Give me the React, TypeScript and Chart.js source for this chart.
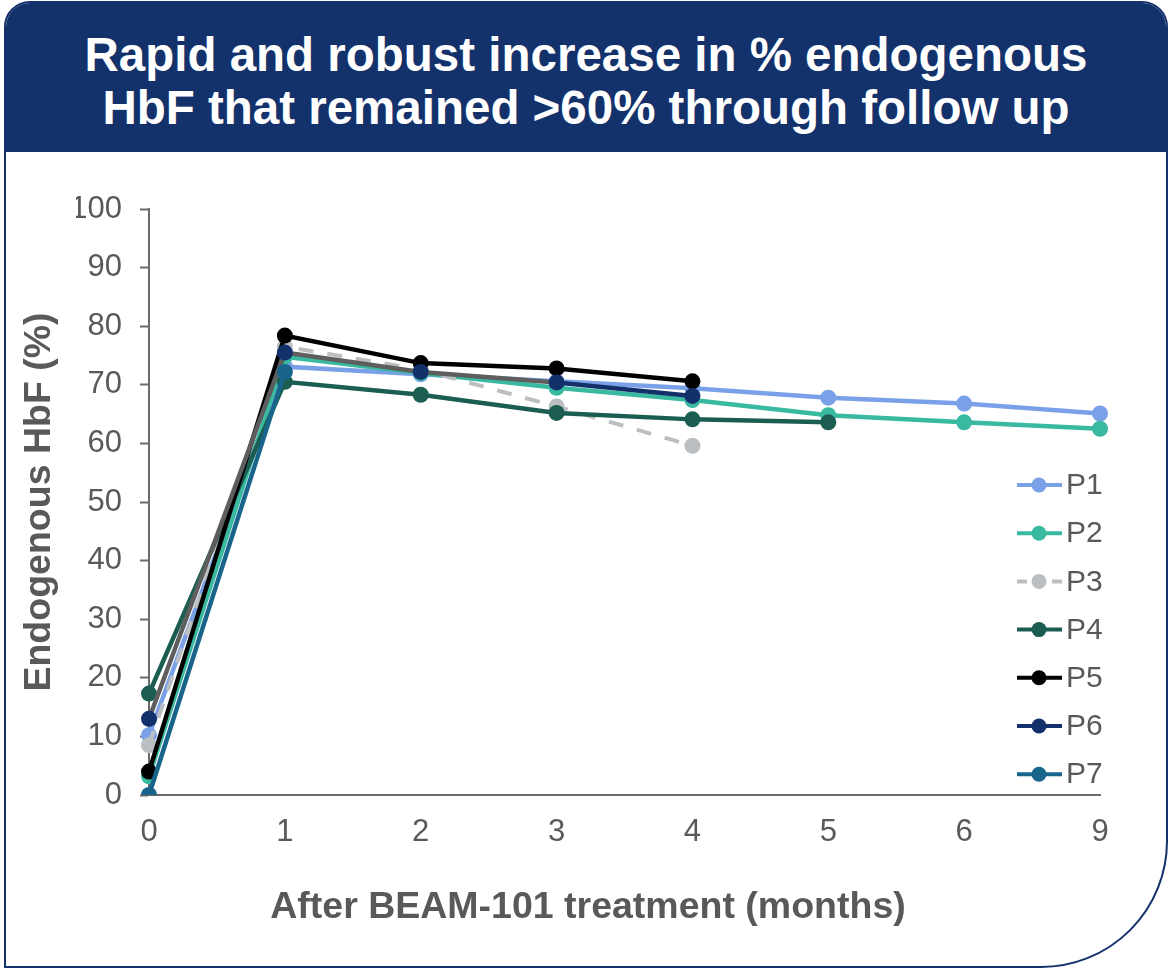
import React, { useEffect, useRef } from "react";
import { Chart, registerables } from "chart.js";

Chart.register(...registerables);

const months = ["0", "1", "2", "3", "4", "5", "6", "9"];
const seriesNames = ["P1", "P2", "P3", "P4", "P5", "P6", "P7"];
const p1 = [10.2, 73.1, 71.8, 70.6, 69.4, 67.8, 66.8, 65.1];
const p2 = [3.2, 74.8, 72.0, 69.5, 67.4, 64.8, 63.6, 62.5];
const p3 = [8.5, 76.5, 72.6, 66.3, 59.6, null, null, null];
const p4 = [17.3, 70.5, 68.3, 65.2, 64.1, 63.6, null, null];
const p5 = [4.0, 78.4, 73.7, 72.8, 70.6, null, null, null];
const p6 = [13.0, 75.5, 72.2, 70.4, 68.1, null, null, null];
const p7 = [0, 72.2, null, null, null, null, null, null];
const seriesValues = [p1, p2, p3, p4, p5, p6, p7];
const seriesColors = ["#7aa1e8", "#38b9a0", "#bcbfc2", "#1b5e51", "#000000", "#12306a", "#18648a"];
const p6EarlyColor = "#5e5e5e";
const yTicks = [0, 10, 20, 30, 40, 50, 60, 70, 80, 90, 100];

const NAVY = "#13316b";
const GREY_TEXT = "#595959";
const AXIS_GREY = "#6a6a6a";
const FONT = "'Liberation Sans', Arial, sans-serif";

const legendPlugin = {
  id: "sideLegend",
  afterDatasetsDraw(chart: any) {
    const { ctx, chartArea } = chart;
    const x0 = chartArea.right - 83;
    const x1 = x0 + 45;
    const cx = x0 + 22;
    const yStart = chartArea.top + 276;
    const step = 48.2;
    ctx.save();
    seriesNames.forEach((name, i) => {
      const y = yStart + i * step;
      const color = seriesColors[i];
      ctx.strokeStyle = color;
      ctx.lineWidth = 4;
      ctx.lineCap = "butt";
      if (i === 2) {
        ctx.setLineDash([10, 25]);
      } else {
        ctx.setLineDash([]);
      }
      ctx.beginPath();
      ctx.moveTo(x0, y);
      ctx.lineTo(x1, y);
      ctx.stroke();
      ctx.setLineDash([]);
      ctx.fillStyle = color;
      ctx.beginPath();
      ctx.arc(cx, y, 7.5, 0, Math.PI * 2);
      ctx.fill();
      ctx.fillStyle = GREY_TEXT;
      ctx.font = `30px ${FONT}`;
      ctx.textAlign = "left";
      ctx.textBaseline = "middle";
      ctx.fillText(name, x1 + 4, y + 1);
    });
    ctx.restore();
  },
};

export default function App() {
  const canvasRef = useRef<HTMLCanvasElement | null>(null);

  useEffect(() => {
    if (!canvasRef.current) return;
    const datasets = seriesValues.map((vals, i) => {
      const ds: any = {
        label: seriesNames[i],
        data: vals,
        borderColor: seriesColors[i],
        backgroundColor: seriesColors[i],
        pointBackgroundColor: seriesColors[i],
        pointBorderColor: seriesColors[i],
        borderWidth: 4.5,
        pointRadius: 8,
        pointBorderWidth: 0,
        pointHoverRadius: 8,
        fill: false,
        tension: 0,
        spanGaps: false,
        order: 7 - i,
      };
      if (i === 2) {
        ds.borderDash = [15, 14];
        ds.borderWidth = 4;
      }
      if (i === 5) {
        ds.segment = {
          borderColor: (c: any) => (c.p0DataIndex < 3 ? p6EarlyColor : seriesColors[5]),
        };
      }
      return ds;
    });

    const chart = new Chart(canvasRef.current, {
      type: "line",
      data: { labels: months, datasets },
      plugins: [legendPlugin],
      options: {
        animation: false,
        responsive: false,
        maintainAspectRatio: false,
        events: [],
        layout: { padding: { left: 76, right: 68, top: 209, bottom: 0 } },
        plugins: {
          legend: { display: false },
          tooltip: { enabled: false },
          title: {
            display: true,
            position: "bottom",
            text: "After BEAM-101 treatment (months)",
            color: GREY_TEXT,
            font: { family: FONT, size: 37.5, weight: "bold", lineHeight: 1.2 },
            padding: { top: 30.5, bottom: 37.5 },
          },
        },
        scales: {
          x: {
            type: "category",
            offset: false,
            afterFit: (s: any) => {
              s.height = 60;
            },
            grid: { display: true, drawOnChartArea: false, drawTicks: false },
            border: { display: true, color: AXIS_GREY, width: 2 },
            ticks: {
              color: GREY_TEXT,
              font: { family: FONT, size: 31 },
              padding: 19,
              maxRotation: 0,
              autoSkip: false,
            },
          },
          y: {
            min: 0,
            max: 100,
            afterFit: (s: any) => {
              s.width = 73;
            },
            afterBuildTicks: (s: any) => {
              s.ticks = yTicks.map((v) => ({ value: v }));
            },
            grid: {
              display: true,
              drawOnChartArea: false,
              drawTicks: true,
              tickLength: 9,
              tickColor: AXIS_GREY,
              tickWidth: 2,
            },
            border: { display: true, color: AXIS_GREY, width: 2 },
            ticks: {
              color: GREY_TEXT,
              font: { family: FONT, size: 31 },
              padding: 18,
            },
            title: {
              display: true,
              text: "Endogenous HbF (%)",
              color: GREY_TEXT,
              font: { family: FONT, size: 37.5, weight: "bold", lineHeight: 1.2 },
              padding: { top: -58.5, bottom: 0 },
            },
          },
        },
      } as any,
    });
    return () => chart.destroy();
  }, []);

  return (
    <div style={{ position: "absolute", left: 0, top: 0, width: 1168, height: 968, background: "#ffffff", overflow: "hidden" }}>
      <div
        style={{
          position: "absolute",
          left: 4,
          top: 1,
          width: 1164,
          height: 967,
          boxSizing: "border-box",
          border: `2.5px solid ${NAVY}`,
          borderRadius: "26px 26px 127px 0px",
          overflow: "hidden",
          background: "#ffffff",
        }}
      >
        <div style={{ position: "absolute", left: 0, top: 0, right: 0, height: 149, background: NAVY }} />
      </div>
      <div
        style={{
          position: "absolute",
          left: 4,
          top: 28,
          width: 1164,
          textAlign: "center",
          color: "#ffffff",
          fontFamily: FONT,
          fontWeight: "bold",
          fontSize: 47.5,
          lineHeight: "53px",
        }}
      >
        Rapid and robust increase in % endogenous
        <br />
        HbF that remained &gt;60% through follow up
      </div>
      <canvas ref={canvasRef} width={1168} height={968} style={{ position: "absolute", left: 0, top: 0, width: 1168, height: 968 }} />
    </div>
  );
}
